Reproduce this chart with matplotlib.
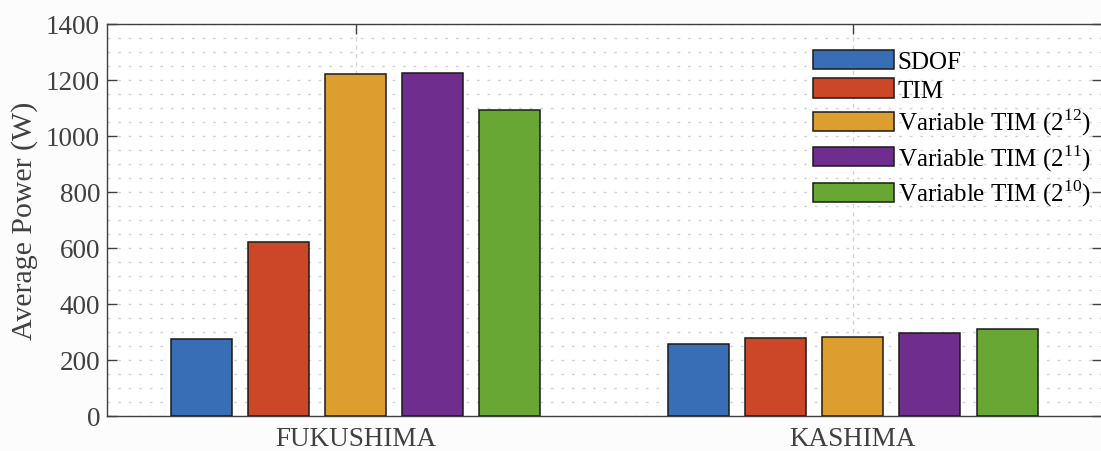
import matplotlib.pyplot as plt
import numpy as np

plt.rcParams['font.family'] = ['Liberation Serif', 'DejaVu Serif']
plt.rcParams['mathtext.fontset'] = 'custom'
plt.rcParams['mathtext.rm'] = 'Liberation Serif'

# sites and models
sites = ['FUKUSHIMA', 'KASHIMA']
models = ['SDOF', 'TIM', 'Variable TIM (2$^{12}$)',
          'Variable TIM (2$^{11}$)', 'Variable TIM (2$^{10}$)']

# average power per model (W), one value per site
sdof = [276, 256]
tim = [621, 277]
var12 = [1219, 282]
var11 = [1224, 297]
var10 = [1092, 310]

colors = ['#386EB6', '#CB4727', '#DC9E2E', '#6F2D8D', '#69A735']

fig = plt.figure(figsize=(11.01, 4.52), dpi=100)
fig.patch.set_facecolor('#fcfcfc')
ax = fig.add_axes([107/1101, 35/452, 994.5/1101, 392.3/452])

x = np.arange(1, len(sites) + 1)
pitch = 0.155
width = 0.1227
for k, (vals, lab) in enumerate(zip([sdof, tim, var12, var11, var10], models)):
    ax.bar(x + (k - 2) * pitch, vals, width, color=colors[k], label=lab,
           edgecolor='#1a1a1a', linewidth=1.1, zorder=3)

ax.set_xlim(0.5, 2.5)
ax.set_ylim(0, 1400)
ax.set_xticks(x)
ax.set_xticklabels(sites)
ax.set_yticks(np.arange(0, 1401, 200))
ax.set_yticks(np.arange(0, 1401, 50), minor=True)

# dotted grid, major and minor on y, major only on x
ax.grid(True, which='both', axis='y', color='#d2d2d2', linestyle=(0, (2.0, 5.6)),
        linewidth=1.0, zorder=0)
ax.grid(True, which='major', axis='x', color='#d2d2d2', linestyle=(0, (3, 3)),
        linewidth=1.0, zorder=0)

ax.tick_params(axis='both', which='major', direction='in', length=7, width=1,
               color='#404040', labelcolor='#404040', labelsize=19.5,
               top=True, right=True)
ax.tick_params(axis='y', which='minor', left=False, right=False)
ax.tick_params(axis='x', pad=7, labelsize=19.5)
ax.tick_params(axis='y', pad=5)
for s in ax.spines.values():
    s.set_color('#404040')
    s.set_linewidth(1.0)

ax.set_ylabel('Average Power (W)', fontsize=21.5, color='#404040', labelpad=6)

ax.legend(loc='upper left', bbox_to_anchor=(0.692, 0.977), frameon=False,
          fontsize=18, handlelength=3.25, handleheight=0.8, handletextpad=0.15,
          labelspacing=0.2, borderpad=0.2)

fig.savefig('out.png', dpi=100, facecolor=fig.get_facecolor())
